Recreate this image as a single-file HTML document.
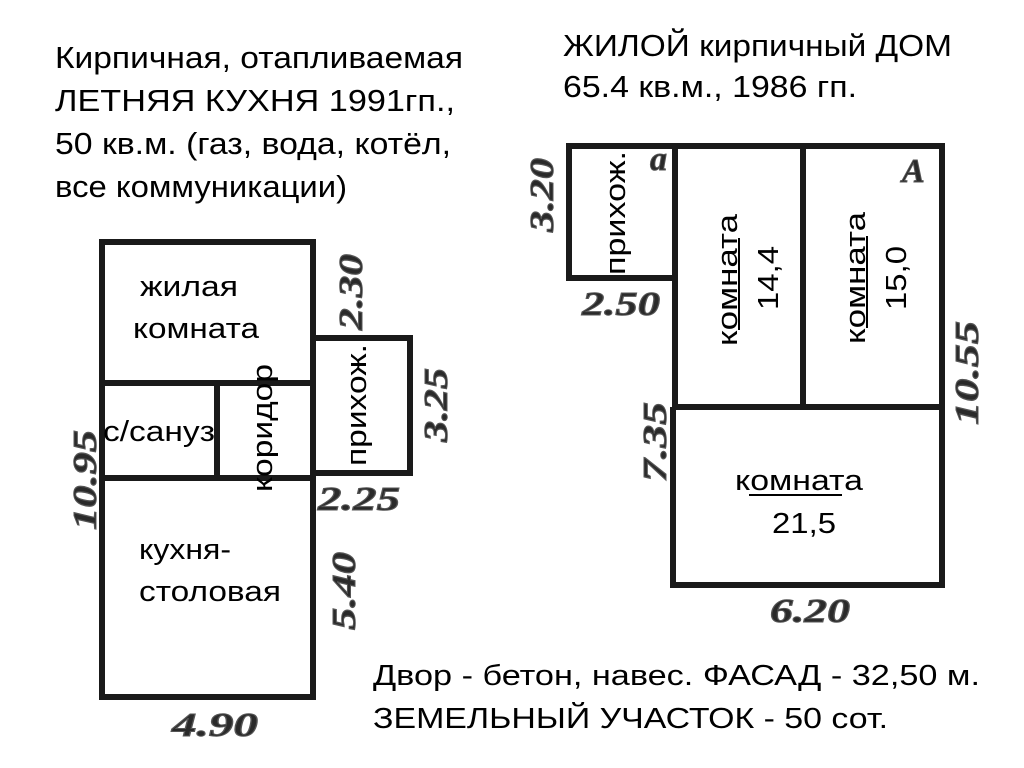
<!DOCTYPE html>
<html><head><meta charset="utf-8"><style>
html,body{margin:0;padding:0;background:#fff;}
svg{display:block;}
.t{font-family:"Liberation Sans",sans-serif;font-size:29px;fill:#000;}
.h{font-family:"Liberation Sans",sans-serif;font-size:31px;fill:#000;}
.d{font-family:"Liberation Serif",serif;font-style:italic;font-weight:bold;font-size:34px;fill:#2a2a2a;stroke:#555;stroke-width:1;}
.w{stroke:#1a1a1a;stroke-width:6;fill:none;}
</style></head><body>
<svg width="1024" height="768" viewBox="0 0 1024 768" xmlns="http://www.w3.org/2000/svg">
<text class="h" x="55" y="68" textLength="408" lengthAdjust="spacingAndGlyphs">Кирпичная, отапливаемая</text>
<text class="h" x="55" y="111" textLength="400" lengthAdjust="spacingAndGlyphs">ЛЕТНЯЯ КУХНЯ 1991гп.,</text>
<text class="h" x="55" y="154" textLength="396" lengthAdjust="spacingAndGlyphs">50 кв.м. (газ, вода, котёл,</text>
<text class="h" x="55" y="197" textLength="292" lengthAdjust="spacingAndGlyphs">все коммуникации)</text>
<text class="h" x="563" y="56" textLength="389" lengthAdjust="spacingAndGlyphs">ЖИЛОЙ кирпичный ДОМ</text>
<text class="h" x="563" y="97" textLength="294" lengthAdjust="spacingAndGlyphs">65.4 кв.м., 1986 гп.</text>

<rect class="w" x="102" y="242" width="211" height="455"/>
<line class="w" x1="102" y1="383" x2="313" y2="383"/>
<line class="w" x1="102" y1="478" x2="313" y2="478"/>
<line class="w" x1="217" y1="383" x2="217" y2="478"/>
<polyline class="w" points="313,338 410,338 410,473 313,473"/>
<text class="t" x="140" y="296" textLength="98" lengthAdjust="spacingAndGlyphs">жилая</text>
<text class="t" x="133" y="338" textLength="126" lengthAdjust="spacingAndGlyphs">комната</text>
<text class="t" x="103" y="441" textLength="112" lengthAdjust="spacingAndGlyphs">с/сануз</text>
<text class="t" transform="translate(272,492) rotate(-90)" textLength="128" lengthAdjust="spacingAndGlyphs">коридор</text>
<text class="t" transform="translate(366,466) rotate(-90)" textLength="122" lengthAdjust="spacingAndGlyphs">прихож.</text>
<text class="t" x="139" y="559" textLength="92" lengthAdjust="spacingAndGlyphs">кухня-</text>
<text class="t" x="139" y="601" textLength="142" lengthAdjust="spacingAndGlyphs">столовая</text>
<text class="d" transform="translate(362,330) rotate(-90)" textLength="76" lengthAdjust="spacingAndGlyphs">2.30</text>
<text class="d" transform="translate(447,442) rotate(-90)" textLength="74" lengthAdjust="spacingAndGlyphs">3.25</text>
<text class="d" x="318" y="510" textLength="82" lengthAdjust="spacingAndGlyphs">2.25</text>
<text class="d" transform="translate(96,530) rotate(-90)" textLength="100" lengthAdjust="spacingAndGlyphs">10.95</text>
<text class="d" transform="translate(355,630) rotate(-90)" textLength="78" lengthAdjust="spacingAndGlyphs">5.40</text>
<text class="d" x="172" y="736" textLength="86" lengthAdjust="spacingAndGlyphs">4.90</text>

<polyline class="w" points="675,278 569,278 569,146 942,146 942,585 673,585 673,407"/>
<line class="w" x1="675" y1="146" x2="675" y2="407"/>
<line class="w" x1="673" y1="407" x2="942" y2="407"/>
<line class="w" x1="803" y1="146" x2="803" y2="407"/>
<text class="t" transform="translate(625,275) rotate(-90)" textLength="124" lengthAdjust="spacingAndGlyphs">прихож.</text>
<text class="d" x="650" y="170" font-size="24">a</text>
<text class="d" x="902" y="182" font-size="26">A</text>
<text class="t" transform="translate(737,346) rotate(-90)" textLength="132" lengthAdjust="spacingAndGlyphs">комната</text>
<line x1="739" y1="238" x2="739" y2="330" stroke="#000" stroke-width="2"/>
<text class="t" transform="translate(778,310) rotate(-90)" textLength="64" lengthAdjust="spacingAndGlyphs">14,4</text>
<text class="t" transform="translate(865,344) rotate(-90)" textLength="132" lengthAdjust="spacingAndGlyphs">комната</text>
<line x1="867" y1="236" x2="867" y2="328" stroke="#000" stroke-width="2"/>
<text class="t" transform="translate(906,310) rotate(-90)" textLength="64" lengthAdjust="spacingAndGlyphs">15,0</text>
<text class="t" x="735" y="490" textLength="128" lengthAdjust="spacingAndGlyphs">комната</text>
<line x1="749" y1="495" x2="842" y2="495" stroke="#000" stroke-width="2"/>
<text class="t" x="772" y="533" textLength="64" lengthAdjust="spacingAndGlyphs">21,5</text>
<text class="d" transform="translate(553,232) rotate(-90)" textLength="74" lengthAdjust="spacingAndGlyphs">3.20</text>
<text class="d" x="582" y="315" textLength="78" lengthAdjust="spacingAndGlyphs">2.50</text>
<text class="d" transform="translate(666,482) rotate(-90)" textLength="80" lengthAdjust="spacingAndGlyphs">7.35</text>
<text class="d" transform="translate(978,425) rotate(-90)" textLength="104" lengthAdjust="spacingAndGlyphs">10.55</text>
<text class="d" x="770" y="622" textLength="80" lengthAdjust="spacingAndGlyphs">6.20</text>

<text class="t" x="373" y="685" textLength="607" lengthAdjust="spacingAndGlyphs">Двор - бетон, навес.  ФАСАД - 32,50 м.</text>
<text class="t" x="373" y="728" textLength="515" lengthAdjust="spacingAndGlyphs">ЗЕМЕЛЬНЫЙ УЧАСТОК - 50 сот.</text>
</svg>
</body></html>
